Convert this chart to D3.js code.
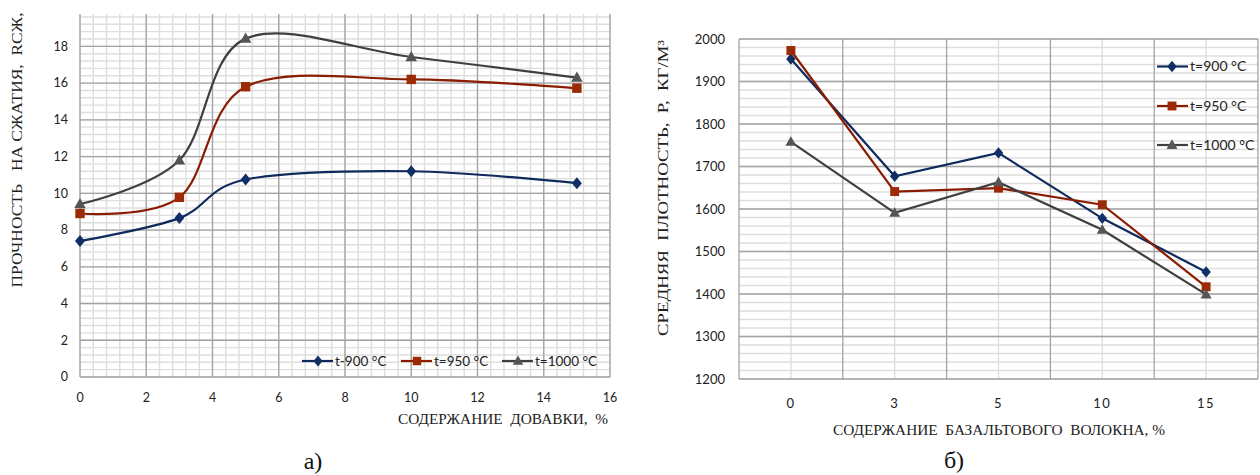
<!DOCTYPE html>
<html>
<head>
<meta charset="utf-8">
<script src="https://cdn.jsdelivr.net/npm/d3@7"></script>
<style>
  body { margin: 0; background: #fff; }
  text { font-family: Lato, "Open Sans", sans-serif; white-space: pre; }
  .serif { font-family: "Liberation Serif", "DejaVu Serif", serif; }
</style>
</head>
<body>
<script>
// ---- data: chart a) strength vs additive content ----
const additive = [0, 3, 5, 10, 15];
const strength900 = [7.4, 8.65, 10.75, 11.2, 10.55];
const strength950 = [8.9, 9.78, 15.8, 16.2, 15.72];
const strength1000 = [9.42, 11.8, 18.42, 17.42, 16.3];
const strengthTicksY = [0, 2, 4, 6, 8, 10, 12, 14, 16, 18];
const strengthTicksX = [0, 2, 4, 6, 8, 10, 12, 14, 16];

// ---- data: chart б) density vs basalt fibre content ----
const fibre = ['0', '3', '5', '10', '15'];
const density900 = [1953, 1677, 1732, 1578, 1452];
const density950 = [1973, 1641, 1649, 1610, 1417];
const density1000 = [1758, 1591, 1663, 1551, 1399];
const densityTicksY = [1200, 1300, 1400, 1500, 1600, 1700, 1800, 1900, 2000];

const seriesNames = ['t=900 °C', 't=950 °C', 't=1000 °C'];
const legendA = ['t-900 °C', 't=950 °C', 't=1000 °C'];
const lineColors = ['#0e2a5c', '#8a1c02', '#3f3f3f'];
const markColors = ['#112f66', '#9c2a06', '#555555'];

const width = 1260, height = 475;
const svg = d3.select(document.body).append('svg')
  .attr('width', width).attr('height', height);

const majorColor = '#a3a3a3', minorColor = '#dedede';

// marker shapes, drawn around (0,0); k scales them
function markerPath(i, k) {
  if (i === 0) return `M0,${-6 * k}L${5 * k},0L0,${6 * k}L${-5 * k},0Z`;
  if (i === 1) return `M${-4.7 * k},${-4.7 * k}h${9.4 * k}v${9.4 * k}h${-9.4 * k}Z`;
  return `M0,${-6 * k}L${5.8 * k},${4.2 * k}L${-5.8 * k},${4.2 * k}Z`;
}
function marker(g, i, x, y, k) {
  g.append('path').attr('d', markerPath(i, k))
    .attr('transform', `translate(${x},${y})`)
    .attr('fill', markColors[i]);
}

// ================= chart a) =================
{
  const top = 14;
  const x = d3.scaleLinear().domain([0, 16]).range([80, 610]);
  const y = d3.scaleLinear().domain([0, 20]).range([377, 9.6]);
  const g = svg.append('g');

  // minor grid
  d3.range(0, 16.001, 0.4).forEach(v => g.append('line')
    .attr('x1', x(v)).attr('x2', x(v)).attr('y1', y(0)).attr('y2', top)
    .attr('stroke', minorColor).attr('stroke-width', 1.4));
  d3.range(0, 19.7, 0.4).forEach(v => g.append('line')
    .attr('x1', x(0)).attr('x2', x(16)).attr('y1', y(v)).attr('y2', y(v))
    .attr('stroke', minorColor).attr('stroke-width', 1.4));
  // major grid
  strengthTicksX.forEach(v => g.append('line')
    .attr('x1', x(v)).attr('x2', x(v)).attr('y1', y(0)).attr('y2', top)
    .attr('stroke', majorColor).attr('stroke-width', 1.3));
  strengthTicksY.forEach(v => g.append('line')
    .attr('x1', x(0)).attr('x2', x(16)).attr('y1', y(v)).attr('y2', y(v))
    .attr('stroke', majorColor).attr('stroke-width', 1.3));

  // tick labels
  g.selectAll('.ty').data(strengthTicksY).enter().append('text')
    .attr('x', 68).attr('y', d => y(d)).attr('dy', '0.35em')
    .attr('text-anchor', 'end').attr('font-size', 12.5).attr('fill', '#222')
    .text(d => d);
  g.selectAll('.tx').data(strengthTicksX).enter().append('text')
    .attr('x', d => x(d)).attr('y', 398).attr('dy', '0.35em')
    .attr('text-anchor', 'middle').attr('font-size', 12.5).attr('fill', '#222')
    .text(d => d);

  const line = d3.line().x(d => x(d[0])).y(d => y(d[1])).curve(d3.curveCardinal.tension(0));
  [strength900, strength950, strength1000].forEach((vals, i) => {
    const pts = additive.map((a, j) => [a, vals[j]]);
    g.append('path').attr('d', line(pts)).attr('fill', 'none')
      .attr('stroke', lineColors[i]).attr('stroke-width', 2.2);
    pts.forEach(p => marker(g, i, x(p[0]), y(p[1]), 1));
  });

  // legend
  const lx = [302, 401, 502];
  legendA.forEach((name, i) => {
    g.append('line').attr('x1', lx[i]).attr('x2', lx[i] + 31).attr('y1', 361).attr('y2', 361)
      .attr('stroke', lineColors[i]).attr('stroke-width', 2.2);
    marker(g, i, lx[i] + 16, 361, 0.9);
    g.append('text').attr('x', lx[i] + 33).attr('y', 361).attr('dy', '0.35em')
      .attr('font-size', 13.5).attr('fill', '#222').text(name);
  });

  // axis titles
  g.append('text').attr('class', 'serif').attr('x', 398).attr('y', 419).attr('dy', '0.35em')
    .attr('font-size', 14).attr('fill', '#222')
    .attr('textLength', 210).attr('lengthAdjust', 'spacingAndGlyphs')
    .text('СОДЕРЖАНИЕ  ДОВАВКИ,  %');
  g.append('text').attr('class', 'serif')
    .attr('transform', 'translate(17,150) rotate(-90)').attr('dy', '0.35em')
    .attr('text-anchor', 'middle').attr('font-size', 14).attr('fill', '#222')
    .attr('textLength', 275).attr('lengthAdjust', 'spacingAndGlyphs')
    .text('ПРОЧНОСТЬ   НА СЖАТИЯ,  RСЖ,');
  g.append('text').attr('class', 'serif').attr('x', 313).attr('y', 461).attr('dy', '0.35em')
    .attr('text-anchor', 'middle').attr('font-size', 24).attr('fill', '#111').text('а)');
}

// ================= chart б) =================
{
  const x = d3.scaleBand().domain(fibre).range([739, 1258]);
  const y = d3.scaleLinear().domain([1200, 2000]).range([379, 39]);
  const g = svg.append('g');

  d3.range(1200, 2001, 20).forEach(v => g.append('line')
    .attr('x1', 739).attr('x2', 1258).attr('y1', y(v)).attr('y2', y(v))
    .attr('stroke', minorColor).attr('stroke-width', 1.4));
  fibre.forEach(c => g.append('line')
    .attr('x1', x(c) + x.bandwidth() / 2).attr('x2', x(c) + x.bandwidth() / 2)
    .attr('y1', y(1200)).attr('y2', y(2000))
    .attr('stroke', minorColor).attr('stroke-width', 1.4));
  densityTicksY.forEach(v => g.append('line')
    .attr('x1', 739).attr('x2', 1258).attr('y1', y(v)).attr('y2', y(v))
    .attr('stroke', majorColor).attr('stroke-width', 1.3));
  fibre.concat(['end']).forEach((c, i) => {
    const xx = 739 + i * x.bandwidth();
    g.append('line').attr('x1', xx).attr('x2', xx).attr('y1', y(1200)).attr('y2', y(2000))
      .attr('stroke', majorColor).attr('stroke-width', 1.3);
  });

  g.selectAll('.ty').data(densityTicksY).enter().append('text')
    .attr('x', 725).attr('y', d => y(d)).attr('dy', '0.35em')
    .attr('text-anchor', 'end').attr('font-size', 13).attr('fill', '#222')
    .text(d => d);
  g.selectAll('.tx').data(fibre).enter().append('text')
    .attr('x', d => x(d) + x.bandwidth() / 2).attr('y', 403).attr('dy', '0.35em')
    .attr('text-anchor', 'middle').attr('font-size', 13).attr('fill', '#222')
    .attr('letter-spacing', 1.5)
    .text(d => d);

  const line = d3.line().x(d => x(d[0]) + x.bandwidth() / 2).y(d => y(d[1]));
  [density900, density950, density1000].forEach((vals, i) => {
    const pts = fibre.map((c, j) => [c, vals[j]]);
    g.append('path').attr('d', line(pts)).attr('fill', 'none')
      .attr('stroke', lineColors[i]).attr('stroke-width', 2.2);
    pts.forEach(p => marker(g, i, x(p[0]) + x.bandwidth() / 2, y(p[1]), 0.95));
  });

  // legend
  const ly = [66.5, 106, 145];
  seriesNames.forEach((name, i) => {
    g.append('line').attr('x1', 1157).attr('x2', 1188).attr('y1', ly[i]).attr('y2', ly[i])
      .attr('stroke', lineColors[i]).attr('stroke-width', 2.2);
    marker(g, i, 1172, ly[i], 0.95);
    g.append('text').attr('x', 1190).attr('y', ly[i]).attr('dy', '0.35em')
      .attr('font-size', 14).attr('fill', '#222').text(name);
  });

  g.append('text').attr('class', 'serif').attr('x', 833).attr('y', 430).attr('dy', '0.35em')
    .attr('font-size', 14).attr('fill', '#222')
    .attr('textLength', 332).attr('lengthAdjust', 'spacingAndGlyphs')
    .text('СОДЕРЖАНИЕ  БАЗАЛЬТОВОГО  ВОЛОКНА, %');
  g.append('text').attr('class', 'serif')
    .attr('transform', 'translate(663,188) rotate(-90)').attr('dy', '0.35em')
    .attr('text-anchor', 'middle').attr('font-size', 14).attr('fill', '#222')
    .attr('textLength', 296).attr('lengthAdjust', 'spacingAndGlyphs')
    .text('СРЕДНЯЯ  ПЛОТНОСТЬ,  Р,  КГ/М³');
  g.append('text').attr('class', 'serif').attr('x', 954).attr('y', 460).attr('dy', '0.35em')
    .attr('text-anchor', 'middle').attr('font-size', 24).attr('fill', '#111').text('б)');
}
</script>
</body>
</html>
